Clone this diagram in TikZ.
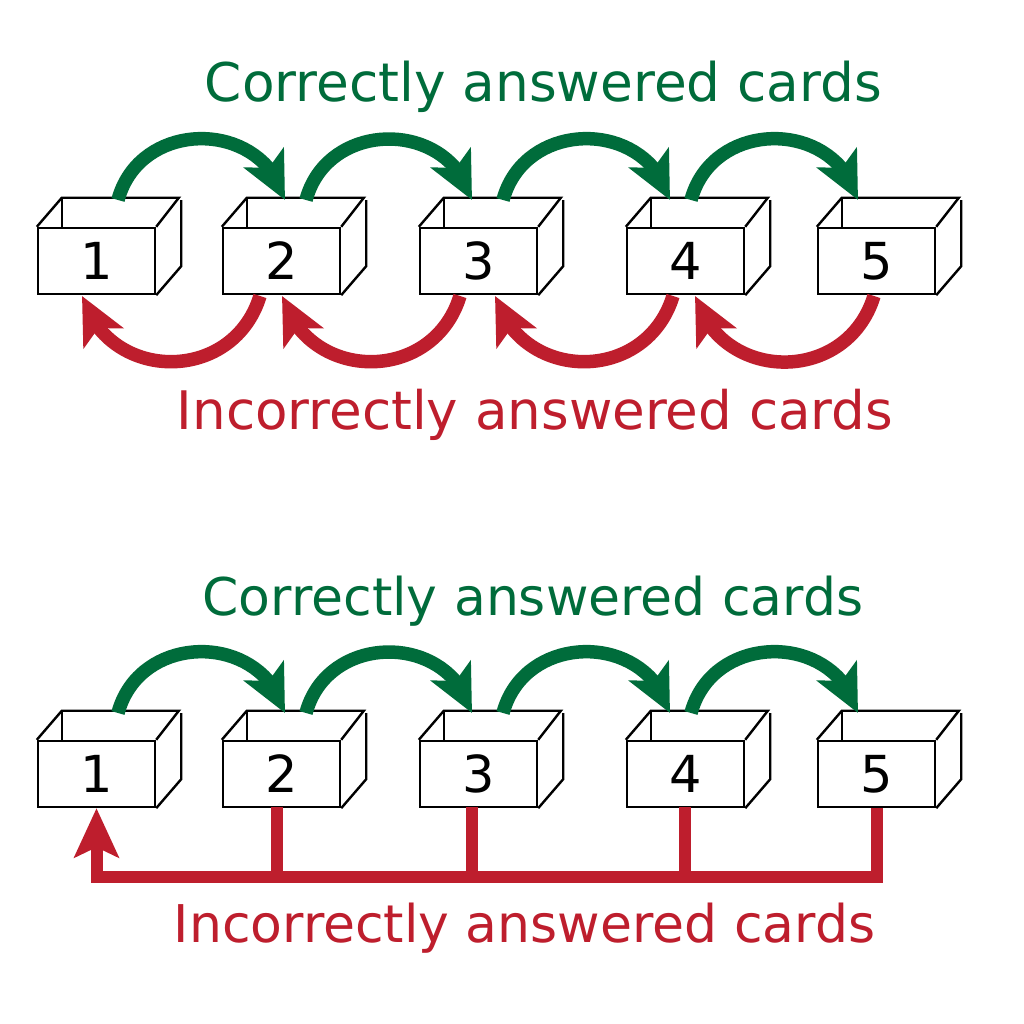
\documentclass[tikz,border=0pt]{standalone}
\usepackage{fontspec}
\setmainfont{DejaVu Sans}
\usetikzlibrary{arrows.meta,bending,calc}
\definecolor{cgreen}{RGB}{0,108,59}
\definecolor{cred}{RGB}{190,30,45}
\newcommand\leitnerbox[4]{%
  \node[boxfront] (#1) at (#2,#3) {#4};
  \draw[boxline] (#1.north west) -- ++(25,29) -- ++(117,0) -- (#1.north east);
  \draw[boxline] (#1.north west) ++(25,29) -- ++(0,-29);
  \draw[boxline] (#1.south east) -- ++(25,29) -- ++(0,66);
}
\begin{document}
\begin{tikzpicture}[x=1pt,y=1pt,
  boxfront/.style={draw, line width=2.4pt, fill=white, minimum width=117pt, minimum height=66pt, inner sep=0pt, font=\fontsize{51}{51}\selectfont},
  boxline/.style={draw, line width=2.4pt, line join=miter},
  garrow/.style={draw=cgreen, line width=13.5pt, -{Stealth[length=47pt,width=44pt,inset=11pt,flex]}},
  rarrow/.style={draw=cred, line width=13.5pt, -{Stealth[length=47pt,width=44pt,inset=11pt,flex]}},
  rline/.style={draw=cred, line width=12pt, line join=miter},
  gtext/.style={text=cgreen, anchor=base, inner sep=0pt},
  rtext/.style={text=cred, anchor=base, inner sep=0pt}
]
\fill[white] (0,0) rectangle (1024,1024);
\useasboundingbox (0,0) rectangle (1024,1024);

% ---------- top diagram ----------
\node[gtext, font=\fontsize{53.3}{60}\selectfont] (tg1) at (543.5,922) {Correctly answered cards};
\node[rtext, font=\fontsize{53.1}{60}\selectfont] (tr1) at (535,594) {Incorrectly answered cards};

\leitnerbox{b1}{96.5}{763}{1}
\leitnerbox{b2}{281.5}{763}{2}
\leitnerbox{b3}{478.5}{763}{3}
\leitnerbox{b4}{685.5}{763}{4}
\leitnerbox{b5}{876.5}{763}{5}

\coordinate (g1s) at (118,824); \coordinate (g1e) at (285,824);
\coordinate (g2s) at (306,824); \coordinate (g2e) at (472,824);
\coordinate (g3s) at (503,824); \coordinate (g3e) at (670,824);
\coordinate (g4s) at (691,824); \coordinate (g4e) at (858,824);
\foreach \i in {1,...,4}
  \draw[garrow] (g\i s) to[out=75,in=105,looseness=1.3] (g\i e);

\coordinate (r1s) at (260,728); \coordinate (r1e) at (82,728);
\coordinate (r2s) at (460,728); \coordinate (r2e) at (282,728);
\coordinate (r3s) at (673,728); \coordinate (r3e) at (495,728);
\coordinate (r4s) at (874,728); \coordinate (r4e) at (695,728);
\foreach \i in {1,...,4}
  \draw[rarrow] (r\i s) to[out=-107,in=-73,looseness=1.32] (r\i e);

% ---------- bottom diagram ----------
\node[gtext, font=\fontsize{52}{60}\selectfont] (tg2) at (533,408) {Correctly answered cards};
\node[rtext, font=\fontsize{52}{60}\selectfont] (tr2) at (524.5,81) {Incorrectly answered cards};

\leitnerbox{c1}{96.5}{250}{1}
\leitnerbox{c2}{281.5}{250}{2}
\leitnerbox{c3}{478.5}{250}{3}
\leitnerbox{c4}{685.5}{250}{4}
\leitnerbox{c5}{876.5}{250}{5}

\coordinate (h1s) at (118,311); \coordinate (h1e) at (285,311);
\coordinate (h2s) at (306,311); \coordinate (h2e) at (472,311);
\coordinate (h3s) at (503,311); \coordinate (h3e) at (670,311);
\coordinate (h4s) at (691,311); \coordinate (h4e) at (858,311);
\foreach \i in {1,...,4}
  \draw[garrow] (h\i s) to[out=75,in=105,looseness=1.3] (h\i e);

\coordinate (rb) at (96.5,147);
\coordinate (v2) at (277,217);
\coordinate (v3) at (472,217);
\coordinate (v4) at (685,217);
\draw[rline, -{Stealth[length=49pt,width=44pt,inset=10pt]}] (c5.south) |- (rb) -- (c1.south);
\draw[rline] (v2) -- (v2 |- rb);
\draw[rline] (v3) -- (v3 |- rb);
\draw[rline] (v4) -- (v4 |- rb);
\end{tikzpicture}
\end{document}
